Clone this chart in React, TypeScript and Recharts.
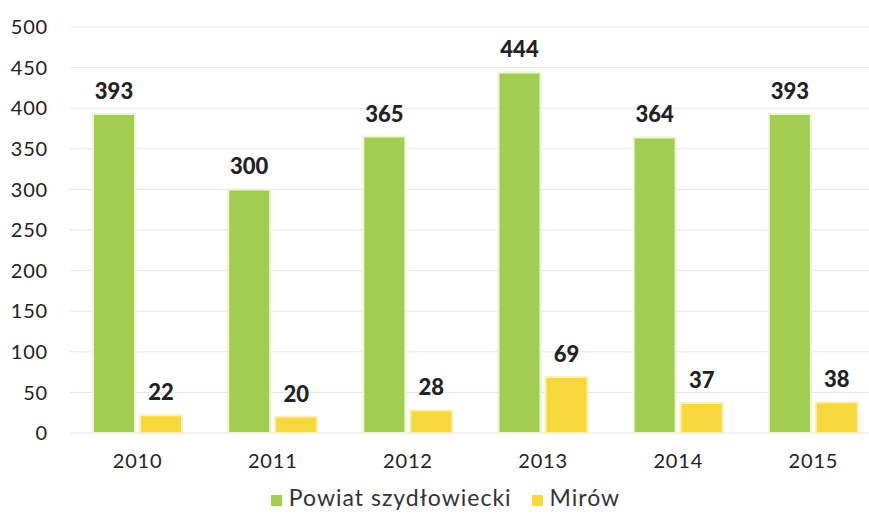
import React from 'react';
import { BarChart, Bar, XAxis, YAxis, CartesianGrid, Legend, LabelList } from 'recharts';

const years = ['2010', '2011', '2012', '2013', '2014', '2015'];
const powiat = [393, 300, 365, 444, 364, 393];
const mirow = [22, 20, 28, 69, 37, 38];
const yTicks = [0, 50, 100, 150, 200, 250, 300, 350, 400, 450, 500];

const data = years.map((year, i) => ({ year, powiat: powiat[i], mirow: mirow[i] }));

const font = 'Lato, "DejaVu Sans", sans-serif';
const legendOrder = ['Powiat szydłowiecki', 'Mirów'];

export default function App() {
    return (
        <div style={{ position: 'absolute', left: 0, top: 0, width: 869, height: 525, overflow: 'hidden', background: '#fff' }}>
            <BarChart
                width={890}
                height={525}
                data={data}
                margin={{ top: 27, right: 9, left: 0, bottom: 14 }}
                barSize={42}
                barGap={5}
            >
                <CartesianGrid vertical={false} stroke="#e6e6e6" />
                <XAxis
                    dataKey="year"
                    axisLine={false}
                    tickLine={false}
                    tickSize={0}
                    tickMargin={21}
                    height={50}
                    tick={{ fill: '#222', fontSize: 20, fontFamily: font, letterSpacing: 0.8 }}
                />
                <YAxis
                    domain={[0, 500]}
                    ticks={yTicks}
                    axisLine={false}
                    tickLine={false}
                    tickSize={0}
                    tickMargin={22}
                    width={70}
                    tick={{ fill: '#222', fontSize: 20, fontFamily: font, letterSpacing: 0.8 }}
                />
                <Legend
                    verticalAlign="bottom"
                    iconType="square"
                    iconSize={11}
                    itemSorter={(item: any) => legendOrder.indexOf(item.value)}
                    wrapperStyle={{ fontFamily: font, fontSize: 23, left: 31, width: 849 }}
                    formatter={(value) => (
                        <span style={{ color: '#333', letterSpacing: 1, marginLeft: 3, marginRight: 10 }}>{value}</span>
                    )}
                />
                <Bar dataKey="powiat" name="Powiat szydłowiecki" fill="#a0cd52" stroke="#eef6d6" strokeWidth={2} isAnimationActive={false}>
                    <LabelList dataKey="powiat" position="top" offset={15} fill="#222" fontSize={22} fontWeight={900} fontFamily={font} />
                </Bar>
                <Bar dataKey="mirow" name="Mirów" fill="#f7d83c" stroke="#fbf0b8" strokeWidth={2} isAnimationActive={false}>
                    <LabelList dataKey="mirow" position="top" offset={15} fill="#222" fontSize={22} fontWeight={900} fontFamily={font} />
                </Bar>
            </BarChart>
        </div>
    );
}
